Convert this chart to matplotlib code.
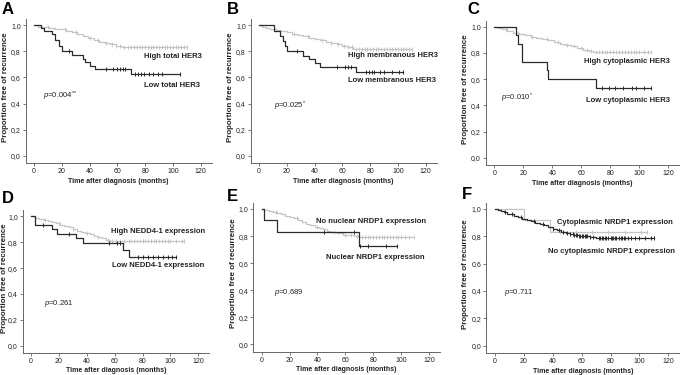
import matplotlib
matplotlib.use("Agg")
import matplotlib.pyplot as plt
import numpy as np

plt.rcParams['font.family'] = ['Liberation Sans', 'DejaVu Sans']
plt.rcParams['mathtext.fontset'] = 'custom'
plt.rcParams['mathtext.rm'] = 'Liberation Sans'
plt.rcParams['mathtext.it'] = 'Liberation Sans:italic'

# ---------------- data ----------------
x_ticks = [0, 20, 40, 60, 80, 100, 120]
y_ticks = [0.0, 0.2, 0.4, 0.6, 0.8, 1.0]
y_tick_labels = ['0,0', '0,2', '0,4', '0,6', '0,8', '1,0']
panel_letters = ['A', 'B', 'C', 'D', 'E', 'F']
x_label = 'Time after diagnosis (months)'
y_label = 'Proportion free of recurrence'

# Panel A
a_high_t = [3, 7, 11, 15, 19, 23, 27, 31, 35, 39, 43, 47, 51, 55, 59, 63, 67]
a_high_s = [0.99, 0.985, 0.98, 0.975, 0.97, 0.955, 0.945, 0.93, 0.915, 0.90, 0.885, 0.875, 0.865, 0.855, 0.845, 0.835, 0.83]
a_high_end = 110
a_high_c = [10, 22, 30, 40, 46, 52, 56, 59, 62, 65, 68, 70, 72, 74, 76, 78, 80, 82, 84, 86, 88, 90, 92, 94, 96, 98, 100, 102, 104, 106, 108, 110]
a_low_t = [5, 7, 13, 15, 18, 20, 27, 35, 37, 40, 44, 70]
a_low_s = [0.98, 0.96, 0.93, 0.89, 0.84, 0.80, 0.77, 0.74, 0.72, 0.69, 0.667, 0.627]
a_low_end = 105
a_low_c = [25, 52, 57, 60, 62, 64, 65.5, 73, 75, 77, 79, 83, 86, 89.5, 92, 105]

# Panel B
b_high_t = [2, 5, 8, 12, 16, 20, 24, 28, 32, 36, 40, 44, 48, 52, 56, 60, 64, 68]
b_high_s = [0.99, 0.98, 0.975, 0.965, 0.955, 0.945, 0.935, 0.925, 0.915, 0.905, 0.895, 0.885, 0.875, 0.865, 0.855, 0.845, 0.83, 0.82]
b_high_end = 110
b_high_c = [12, 25, 35, 45, 52, 57, 61, 64, 67, 70, 72, 74, 76, 78, 80, 82, 84, 86, 88, 90, 92, 94, 96, 98, 100, 102, 104, 106, 108, 110]
b_low_t = [11, 15, 17, 19, 20, 32, 36, 40, 44, 70]
b_low_s = [0.96, 0.92, 0.88, 0.84, 0.80, 0.765, 0.74, 0.71, 0.683, 0.64]
b_low_end = 104
b_low_c = [27, 56, 62, 64, 66, 77, 79, 81, 83, 87, 90, 96, 101, 104]

# Panel C
c_high_t = [2, 5, 9, 13, 17, 21, 25, 29, 33, 37, 41, 45, 49, 53, 57, 61, 65, 68]
c_high_s = [0.99, 0.98, 0.97, 0.955, 0.945, 0.935, 0.925, 0.915, 0.905, 0.895, 0.885, 0.87, 0.86, 0.85, 0.835, 0.825, 0.815, 0.81]
c_high_end = 108
c_high_c = [8, 16, 26, 36, 44, 50, 55, 60, 64, 67, 70, 72, 74, 76, 78, 80, 82, 84, 86, 88, 90, 92, 94, 96, 98, 100, 103, 106, 108]
c_low_t = [15, 16, 19, 36, 37, 70]
c_low_s = [0.933, 0.867, 0.733, 0.667, 0.60, 0.533]
c_low_end = 108
c_low_c = [74, 79, 83, 89, 95, 98, 103, 108]

# Panel D
d_high_t = [3, 6, 9, 12, 15, 18, 21, 24, 27, 30, 33, 36, 39, 42, 45, 48, 51, 54, 57]
d_high_s = [0.99, 0.98, 0.975, 0.965, 0.955, 0.945, 0.935, 0.925, 0.915, 0.90, 0.89, 0.88, 0.87, 0.86, 0.85, 0.84, 0.83, 0.82, 0.81]
d_high_end = 110
d_high_c = [10, 20, 30, 40, 48, 55, 58, 61, 64, 67, 70, 72, 74, 76, 78, 80, 82, 84, 86, 88, 90, 92, 94, 96, 98, 100, 104, 108, 110]
d_low_t = [3, 15, 19, 32, 37, 66, 70]
d_low_s = [0.93, 0.90, 0.863, 0.83, 0.794, 0.742, 0.688]
d_low_end = 104
d_low_c = [8.5, 27, 56, 62, 63.5, 77, 80.5, 84, 87.5, 91, 94.5, 98, 101, 104]

# Panel E
e_high_t = [2, 5, 8, 11, 14, 17, 20, 23, 26, 29, 32, 35, 38, 41, 44, 47, 50, 54, 58, 62, 66, 70]
e_high_s = [0.99, 0.985, 0.975, 0.97, 0.96, 0.95, 0.94, 0.93, 0.92, 0.905, 0.89, 0.88, 0.87, 0.86, 0.85, 0.84, 0.83, 0.82, 0.81, 0.805, 0.80, 0.79]
e_high_end = 109
e_high_c = [10, 25, 40, 52, 60, 64, 68, 72, 74, 76, 78, 80, 82, 84, 86, 88, 90, 92, 94, 96, 98, 100, 103, 106, 109]
e_low_t = [2, 11, 70]
e_low_s = [0.917, 0.833, 0.729]
e_low_end = 97
e_low_c = [45, 66, 70.5, 76, 89, 97]

# Panel F
f_cyto_t = [20, 38]
f_cyto_s = [0.92, 0.835]
f_cyto_end = 105
f_cyto_c = [45, 56, 67, 78, 90, 101, 105]
f_nocyto_t = [2, 4, 6, 8, 10, 13, 16, 19, 22, 25, 28, 31, 34, 37, 40, 43, 46, 49, 52, 55, 58, 62, 66, 70]
f_nocyto_s = [0.995, 0.985, 0.975, 0.965, 0.96, 0.95, 0.94, 0.93, 0.92, 0.91, 0.90, 0.89, 0.88, 0.87, 0.855, 0.845, 0.835, 0.825, 0.82, 0.81, 0.805, 0.80, 0.795, 0.785]
f_nocyto_end = 110
f_nocyto_c = [7, 12, 18, 27, 33, 40, 44, 47, 50, 52, 54, 55, 56, 57, 58, 59, 60, 61, 62, 63, 64, 66, 68, 72, 73, 74, 75, 76, 77, 78, 80, 81, 82, 83, 84, 86, 87, 88, 89, 90, 92, 94, 97, 100, 104, 108, 110]

# ---------------- layout (pixel anchors: x=0, x=120, y=1, y=0, ylabel x) ----------------
W, H = 680, 375
anchors = [
    (34, 200.7, 25.3, 155.7, 5.5),
    (259, 425.7, 25.3, 155.7, 230.5),
    (494.3, 668.3, 26.7, 158, 465.5),
    (31, 198.3, 216.3, 345.7, 5.0),
    (261.7, 429, 209, 344.3, 233.5),
    (495, 668.3, 209, 345.7, 465.5),
]
XL = (-6, 128)
YL = (-0.055, 1.045)

DARK = '#2b2b2b'
GRAY = '#c4c4c4'

fig = plt.figure(figsize=(W / 100, H / 100), dpi=100)


def make_ax(anchor):
    x0, x120, y1, y0, ylx = anchor
    sx = (x120 - x0) / 120.0
    sy = (y0 - y1)
    left = x0 + XL[0] * sx
    right = x0 + XL[1] * sx
    top = y0 - YL[1] * sy
    bottom = y0 - YL[0] * sy
    ax = fig.add_axes([left / W, 1 - bottom / H, (right - left) / W, (bottom - top) / H])
    ax.set_xlim(*XL)
    ax.set_ylim(*YL)
    for s in ['top', 'right']:
        ax.spines[s].set_visible(False)
    for s in ['left', 'bottom']:
        ax.spines[s].set_color('#666666')
        ax.spines[s].set_linewidth(0.7)
    ax.set_xticks(x_ticks)
    ax.set_yticks(y_ticks)
    ax.set_yticklabels(y_tick_labels)
    ax.tick_params(axis='both', length=2, width=0.6, color='#666666', labelsize=5, pad=1.5, labelcolor='#222222')
    ax.set_xlabel(x_label, fontsize=5.0, fontweight='bold', labelpad=2, color='#222222')
    ax.set_ylabel(y_label, fontsize=5.7, fontweight='bold', color='#222222', va='center')
    # y-label centre of the axis line (y=0..1.045) at given pixel x
    ycen_px = (y0 + (y0 - 1.045 * sy)) / 2.0
    ax.yaxis.set_label_coords((ylx - left) / (right - left), (bottom - ycen_px) / (bottom - top))
    return ax


def km(ax, times, surv, end, cens, color, lw=0.9, z=2):
    xs = [0] + list(times) + [end]
    ys = [1.0] + list(surv) + [surv[-1]]
    ax.step(xs, ys, where='post', color=color, lw=lw, zorder=z)
    tt = np.array(times)
    sv = np.array(surv)
    cy = []
    for c in cens:
        idx = np.searchsorted(tt, c, side='right') - 1
        cy.append(1.0 if idx < 0 else sv[idx])
    ax.plot(cens, cy, linestyle='none', marker='|', markersize=3, markeredgewidth=0.7, color=color, zorder=z)


def label(ax, x, y, s, ha='right'):
    ax.text(x, y, s, ha=ha, va='center', fontsize=5.5, fontweight='bold', color='#222222')


def pval(ax, x, y, s):
    ax.text(x, y, s, ha='left', va='center', fontsize=5.5, color='#222222')


axes = [make_ax(a) for a in anchors]

# A
ax = axes[0]
km(ax, a_high_t, a_high_s, a_high_end, a_high_c, GRAY)
km(ax, a_low_t, a_low_s, a_low_end, a_low_c, DARK, z=3)
label(ax, 120.7, 0.76, 'High total HER3')
label(ax, 119.5, 0.54, 'Low total HER3')
pval(ax, 6.7, 0.458, r'$\mathit{p}$=0.004$^{**}$')

# B
ax = axes[1]
km(ax, b_high_t, b_high_s, b_high_end, b_high_c, GRAY)
km(ax, b_low_t, b_low_s, b_low_end, b_low_c, DARK, z=3)
label(ax, 128.9, 0.765, 'High membranous HER3')
label(ax, 127.4, 0.573, 'Low membranous HER3')
pval(ax, 10.8, 0.38, r'$\mathit{p}$=0.025$^{*}$')

# C
ax = axes[2]
km(ax, c_high_t, c_high_s, c_high_end, c_high_c, GRAY)
km(ax, c_low_t, c_low_s, c_low_end, c_low_c, DARK, z=3)
label(ax, 121.2, 0.733, 'High cytoplasmic HER3')
label(ax, 121.0, 0.436, 'Low cytoplasmic HER3')
pval(ax, 4.6, 0.455, r'$\mathit{p}$=0.010$^{*}$')

# D
ax = axes[3]
km(ax, d_high_t, d_high_s, d_high_end, d_high_c, GRAY)
km(ax, d_low_t, d_low_s, d_low_end, d_low_c, DARK, z=3)
label(ax, 124.8, 0.884, 'High NEDD4-1 expression')
label(ax, 124.1, 0.616, 'Low NEDD4-1 expression')
pval(ax, 9.1, 0.325, r'$\mathit{p}$=0.261')

# E
ax = axes[4]
km(ax, e_high_t, e_high_s, e_high_end, e_high_c, GRAY)
km(ax, e_low_t, e_low_s, e_low_end, e_low_c, DARK, z=3)
label(ax, 117.6, 0.904, 'No nuclear NRDP1 expression')
label(ax, 117.1, 0.64, 'Nuclear NRDP1 expression')
pval(ax, 9.0, 0.381, r'$\mathit{p}$=0.689')

# F
ax = axes[5]
km(ax, f_cyto_t, f_cyto_s, f_cyto_end, f_cyto_c, GRAY)
km(ax, f_nocyto_t, f_nocyto_s, f_nocyto_end, f_nocyto_c, DARK, z=3)
label(ax, 123.5, 0.90, 'Cytoplasmic NRDP1 expression')
label(ax, 124.8, 0.688, 'No cytoplasmic NRDP1 expression')
pval(ax, 6.2, 0.388, r'$\mathit{p}$=0.711')

# panel letters (pixel positions)
letter_pos = [(2, 2), (227, 2), (467, 2), (2, 191), (227, 189), (462, 187)]
for letter, (px, py) in zip(panel_letters, letter_pos):
    fig.text(px / W, 1 - py / H, letter, ha='left', va='top', fontsize=12, fontweight='bold', color='black')

fig.savefig('out.png', dpi=100)
